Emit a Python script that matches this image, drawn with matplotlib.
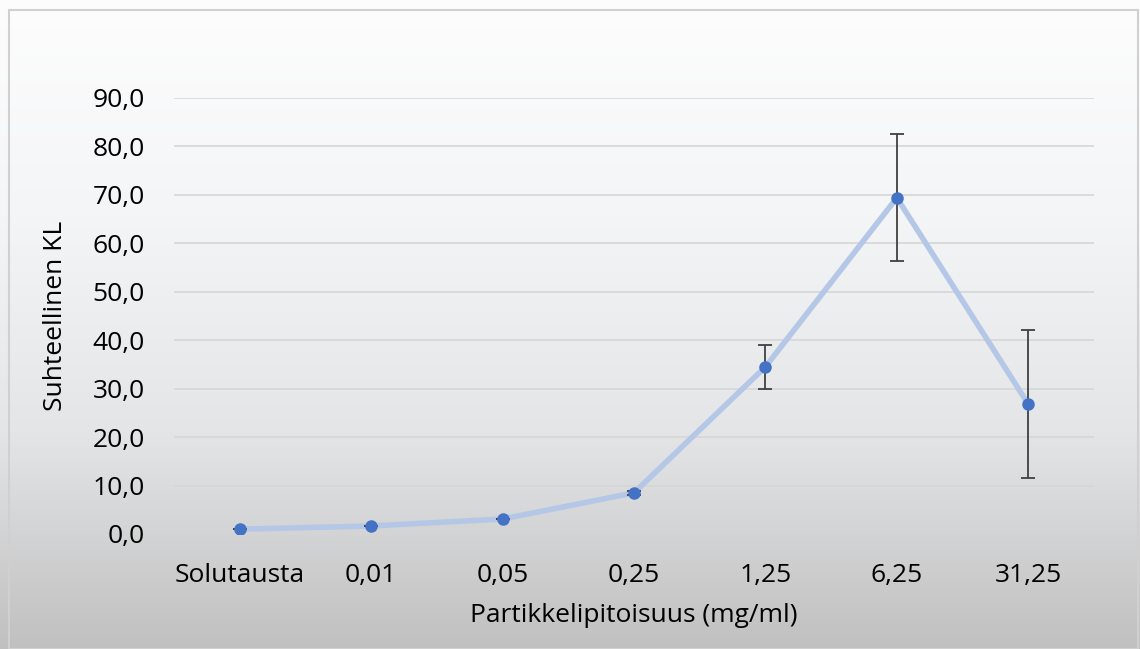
import numpy as np
import matplotlib.pyplot as plt
from matplotlib.patches import Rectangle

# Data
categories = ['Solutausta', '0,01', '0,05', '0,25', '1,25', '6,25', '31,25']
values = [1.0, 1.65, 3.1, 8.5, 34.5, 69.4, 26.8]
errors = [0.0, 0.0, 0.0, 0.4, 4.5, 13.1, 15.3]
yticks = [0, 10, 20, 30, 40, 50, 60, 70, 80, 90]

plt.rcParams['font.family'] = ['Open Sans', 'DejaVu Sans']

fig = plt.figure(figsize=(11.4, 6.49), dpi=100)

# gradient background (white at top, grey at bottom)
bg = fig.add_axes([0, 0, 1, 1], zorder=-10)
grad = np.linspace(0, 1, 256).reshape(-1, 1)
bg.imshow(grad, aspect='auto', cmap=plt.matplotlib.colors.LinearSegmentedColormap.from_list(
    'g', ['#c0c0c0', '#e4e5e7', '#f4f5f7', '#fdfdfd']), extent=[0, 1, 0, 1], origin='lower')
bg.add_patch(Rectangle((0.008, 0.0), 0.99, 0.985, fill=False, edgecolor='#d0d0d0', lw=1.5,
                       transform=bg.transAxes))
bg.set_xlim(0, 1)
bg.set_ylim(0, 1)
bg.axis('off')

ax = fig.add_axes([174 / 1140, 1 - 534 / 649, (1094 - 174) / 1140, (534 - 98) / 649])
ax.patch.set_alpha(0)

x = np.arange(len(categories))
ax.plot(x, values, color='#b4c7e7', lw=4, zorder=2, solid_capstyle='round')
ax.errorbar(x, values, yerr=errors, fmt='none', ecolor='#404040', elinewidth=1.3,
            capsize=5, capthick=1.3, zorder=3)
ax.plot(x, values, 'o', color='#4472c4', markersize=8, zorder=4)

ax.set_xlim(-0.5, len(categories) - 0.5)
ax.set_ylim(0, 90)
ax.set_yticks(yticks)
ax.set_yticklabels([f'{v:.1f}'.replace('.', ',') for v in yticks], fontsize=19)
ax.set_xticks(x)
ax.set_xticklabels(categories, fontsize=19)
ax.tick_params(length=0)
ax.tick_params(axis='x', pad=21)
ax.tick_params(axis='y', pad=21)
ax.grid(axis='y', color='#d6d6d6', lw=1.2)
ax.set_axisbelow(True)
for s in ax.spines.values():
    s.set_visible(False)

ax.set_xlabel('Partikkelipitoisuus (mg/ml)', fontsize=19, labelpad=11)
ax.set_ylabel('Suhteellinen KL', fontsize=19, labelpad=18)

fig.savefig('out.png', dpi=100)
